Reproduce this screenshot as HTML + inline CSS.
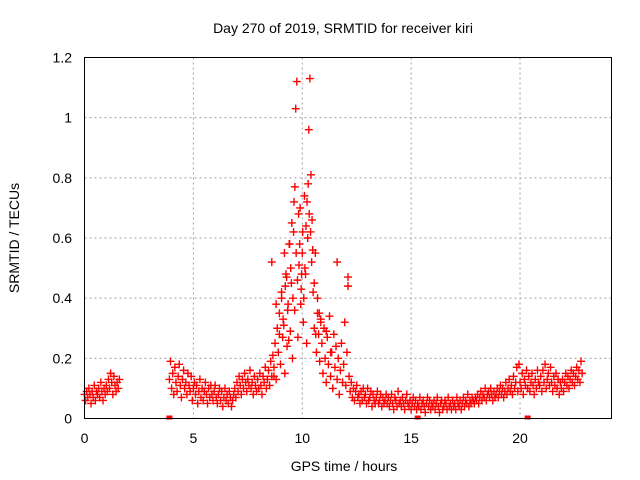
<!DOCTYPE html>
<html><head><meta charset="utf-8"><style>
body{margin:0;background:#fff}
svg{display:block;font-family:"Liberation Sans",Arial,sans-serif;font-size:14px}
</style></head><body>
<svg id="chart" width="640" height="480" xmlns="http://www.w3.org/2000/svg">
<rect width="640" height="480" fill="#fff"/>
<text x="343" y="33" text-anchor="middle">Day 270 of 2019, SRMTID for receiver kiri</text>
<text x="344" y="471" text-anchor="middle">GPS time / hours</text>
<text transform="translate(19,238) rotate(-90)" text-anchor="middle">SRMTID / TECUs</text>
<g id="grid"></g><g id="ticks"></g><g id="marks"></g>
<rect x="84.5" y="57.5" width="527" height="361" fill="none" stroke="#000" stroke-width="1"/>
</svg>
<script>
const xTicks=[0,5,10,15,20];
const yTicks=[0,0.2,0.4,0.6,0.8,1,1.2];
const yTickLabels=["0","0.2","0.4","0.6","0.8","1","1.2"];
const segStarts=[0,3.9];
const seg1Vals=[0.08,0.06,0.09,0.07,0.10,0.08,0.05,0.09,0.07,0.11,0.06,0.09,0.08,0.10,0.07,0.12,0.09,0.06,0.10,0.08,
0.11,0.09,0.13,0.10,0.15,0.12,0.08,0.14,0.11,0.09,0.12,0.10,0.13];
const seg2Vals=[0.13,0.19,0.10,0.15,0.08,0.17,0.12,0.09,0.14,0.18,0.11,0.07,0.13,0.16,0.10,0.12,0.08,0.15,0.11,0.09,
0.14,0.06,0.10,0.12,0.08,0.11,0.05,0.09,0.13,0.07,0.10,0.06,0.09,0.12,0.08,0.05,0.10,0.07,0.11,0.08,
0.06,0.09,0.11,0.07,0.05,0.08,0.10,0.06,0.09,0.04,0.07,0.10,0.06,0.08,0.05,0.09,0.07,0.04,0.06,0.08,
0.10,0.07,0.12,0.09,0.14,0.11,0.08,0.13,0.10,0.15,0.12,0.09,0.13,0.11,0.16,0.10,0.12,0.08,0.14,0.11,
0.09,0.13,0.10,0.15,0.11,0.08,0.14,0.12,0.17,0.10,0.13,0.16,0.11,0.19,0.14,0.21,0.17,0.25,0.13,0.30,
0.22,0.35,0.18,0.42,0.27,0.31,0.15,0.48,0.24,0.38,0.58,0.29,0.45,0.20,0.62,0.36,1.03,1.12,0.27,0.51,
0.70,0.43,0.55,0.32,0.74,0.48,0.25,0.60,0.96,1.13,0.81,0.66,0.42,0.30,0.55,0.22,0.35,0.28,0.19,0.33,
0.25,0.15,0.30,0.20,0.12,0.27,0.18,0.34,0.14,0.22,0.10,0.28,0.17,0.24,0.13,0.20,0.08,0.16,0.25,0.12,
0.18,0.32,0.11,0.22,0.47,0.14,0.09,0.12,0.07,0.10,0.06,0.09,0.11,0.07,0.08,0.05,0.09,0.06,0.10,0.07,
0.08,0.05,0.10,0.06,0.07,0.09,0.04,0.08,0.06,0.05,0.07,0.09,0.05,0.06,0.08,0.04,0.07,0.05,0.06,0.08,
0.05,0.07,0.04,0.06,0.08,0.05,0.03,0.07,0.06,0.04,0.09,0.05,0.06,0.04,0.07,0.05,0.03,0.06,0.08,0.05,
0.04,0.06,0.03,0.05,0.07,0.04,0.06,0.03,0.05,0.04,0.07,0.03,0.05,0.06,0.04,0.02,0.05,0.07,0.04,0.06,
0.03,0.05,0.04,0.06,0.03,0.05,0.07,0.04,0.02,0.05,0.06,0.03,0.04,0.06,0.05,0.03,0.07,0.04,0.05,0.03,
0.06,0.04,0.05,0.03,0.07,0.05,0.04,0.06,0.03,0.05,0.07,0.04,0.06,0.05,0.08,0.04,0.06,0.05,0.07,0.06,
0.05,0.07,0.06,0.08,0.05,0.07,0.09,0.06,0.08,0.07,0.10,0.06,0.08,0.09,0.07,0.10,0.08,0.06,0.09,0.07,
0.08,0.10,0.07,0.09,0.11,0.08,0.10,0.07,0.09,0.12,0.08,0.10,0.13,0.09,0.11,0.08,0.14,0.10,0.12,0.17,
0.09,0.18,0.12,0.10,0.15,0.08,0.13,0.11,0.16,0.10,0.14,0.09,0.12,0.15,0.11,0.08,0.13,0.10,0.16,0.12,
0.11,0.14,0.09,0.16,0.12,0.18,0.10,0.13,0.15,0.11,0.17,0.12,0.09,0.14,0.11,0.15,0.10,0.13,0.08,0.12,
0.10,0.13,0.09,0.12,0.15,0.11,0.14,0.10,0.13,0.16,0.12,0.15,0.11,0.14,0.17,0.13,0.16,0.12,0.19,0.15];
const peakT=[8.6,8.7,8.8,8.95,9.05,9.12,9.18,9.22,9.28,9.33,9.38,9.42,9.47,9.52,9.57,9.62,9.66,9.72,9.78,9.83,9.88,9.93,9.97,10.02,10.07,10.12,10.17,10.22,10.27,10.32,10.38,10.43,10.48,10.55,10.62,10.7,10.78,10.85,11.1,11.3,11.6,12.1];
const peakV=[0.52,0.14,0.38,0.28,0.40,0.33,0.55,0.44,0.47,0.36,0.26,0.58,0.50,0.65,0.40,0.72,0.77,0.55,0.46,0.68,0.58,0.38,0.48,0.62,0.40,0.50,0.64,0.72,0.78,0.68,0.62,0.52,0.56,0.45,0.28,0.40,0.35,0.32,0.29,0.22,0.52,0.44];
const zeroT=[3.9,15.3,20.35];
const STEP=0.05;
const NS="http://www.w3.org/2000/svg";
const X0=84.5,X1=611.5,Y0=418.5,Y1=57.5,XMAX=24.2,YMAX=1.2;
function xs(t){return X0+(X1-X0)*t/XMAX;}
function ys(v){return Y0-(Y0-Y1)*v/YMAX;}
function el(tag,attrs,parent){const e=document.createElementNS(NS,tag);for(const k in attrs)e.setAttribute(k,attrs[k]);parent.appendChild(e);return e;}
const grid=document.getElementById('grid'),ticks=document.getElementById('ticks'),marks=document.getElementById('marks');
yTicks.forEach((v,i)=>{
  const y=ys(v);
  if(v>0&&v<YMAX){const g=el('line',{x1:X0,x2:X1,y1:y,y2:y,stroke:'#a0a0a0','stroke-dasharray':'2,3'},grid);
  
  }
  const t=el('text',{x:72,y:y+5,'text-anchor':'end'},ticks);t.textContent=yTickLabels[i];
  
  
});
xTicks.forEach(v=>{
  const x=xs(v);
  if(v>0){const g=el('line',{x1:x,x2:x,y1:Y1,y2:Y0,stroke:'#a0a0a0','stroke-dasharray':'2,3'},grid);
  
  }
  const t=el('text',{x:x,y:443,'text-anchor':'middle'},ticks);t.textContent=String(v);
  
  
});
function plus(t,v){
  const x=xs(t),y=ys(v);
  const p=el('path',{d:`M${x-4},${y}h8M${x},${y-4}v8`,stroke:'#ff0000','stroke-width':1.4,fill:'none'},marks);
  
  
}
seg1Vals.forEach((v,i)=>plus(segStarts[0]+i*STEP,v));
seg2Vals.forEach((v,i)=>plus(segStarts[1]+i*STEP,v));
peakT.forEach((t,i)=>plus(t,peakV[i]));
zeroT.forEach(t=>{
  const r=el('rect',{x:xs(t)-3,y:Y0-3,width:6,height:4,fill:'#ff0000'},marks);
  
  
});
</script>
</body></html>
